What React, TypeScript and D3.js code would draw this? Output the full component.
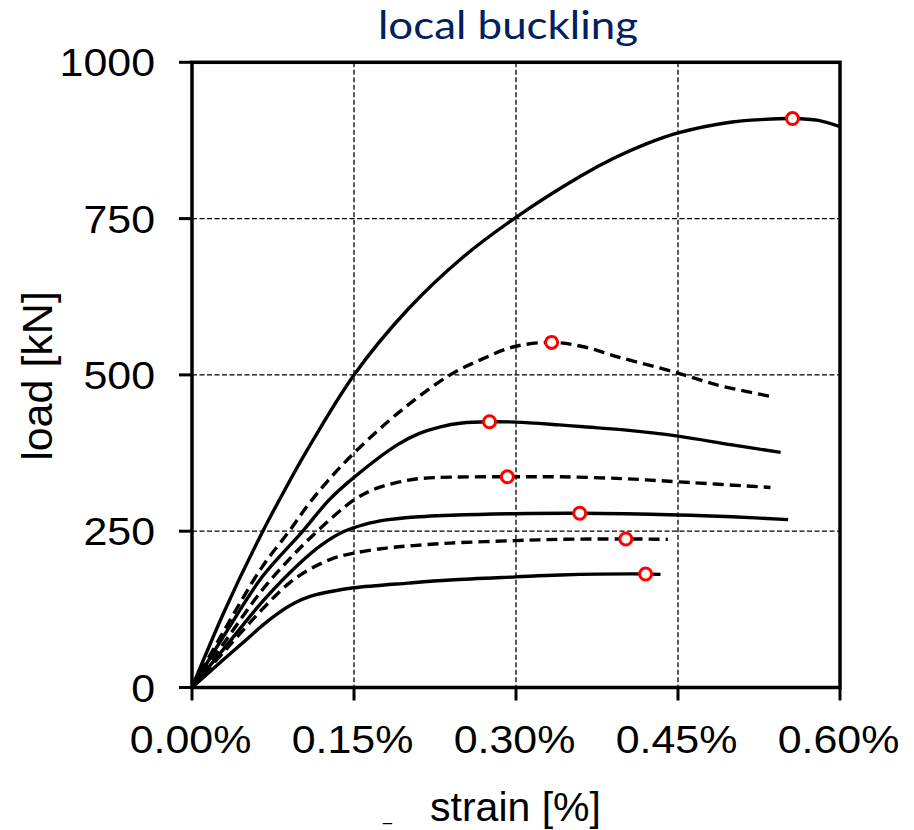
import React from "react";
import * as d3 from "d3";

// Load–strain curves of the local buckling tests: [strain %, load kN]
const curveA: [number, number][] = [
  [0, 0], [0.03, 122], [0.065, 248], [0.09, 329], [0.105, 375], [0.15, 500],
  [0.2, 605], [0.25, 687], [0.3, 752], [0.36, 818], [0.39, 846], [0.42, 869],
  [0.45, 887], [0.5, 904.5], [0.53, 908.7], [0.556, 910], [0.58, 907], [0.6, 897],
];
const curveB: [number, number][] = [
  [0, 0], [0.03, 92], [0.065, 193], [0.09, 250], [0.107, 291], [0.126, 331],
  [0.15, 375], [0.195, 445], [0.239, 500], [0.267, 524], [0.298, 545],
  [0.333, 552], [0.3625, 545], [0.394, 529], [0.45, 503], [0.486, 484], [0.5375, 465],
];
const curveC: [number, number][] = [
  [0, 0], [0.03, 84], [0.065, 177], [0.102, 249], [0.127, 300], [0.15, 336],
  [0.19, 388], [0.21, 406], [0.23, 417], [0.25, 423], [0.2755, 425], [0.30, 424.5],
  [0.34, 420], [0.363, 417], [0.40, 412], [0.45, 402], [0.50, 388], [0.545, 376],
];
const curveD: [number, number][] = [
  [0, 0], [0.03, 72], [0.065, 156], [0.09, 205], [0.116, 250], [0.15, 300],
  [0.17, 318], [0.19, 328], [0.21, 334], [0.24, 336.5], [0.292, 337], [0.341, 337],
  [0.40, 334], [0.45, 329], [0.5356, 320],
];
const curveE: [number, number][] = [
  [0, 0], [0.03, 63], [0.065, 137], [0.1, 199], [0.12, 228], [0.14, 249],
  [0.16, 261], [0.18, 268], [0.2, 272], [0.24, 275.5], [0.298, 278], [0.359, 278.7],
  [0.45, 276], [0.50, 273], [0.552, 268.5],
];
const curveF: [number, number][] = [
  [0, 0], [0.03, 58], [0.065, 125], [0.09, 167], [0.11, 190], [0.13, 206],
  [0.15, 215], [0.18, 223], [0.205, 227], [0.239, 231], [0.30, 235], [0.341, 237],
  [0.4017, 237.6], [0.4406, 237],
];
const curveG: [number, number][] = [
  [0, 0], [0.03, 46], [0.05, 76], [0.065, 99], [0.08, 119], [0.095, 135],
  [0.11, 146], [0.13, 154], [0.15, 159.5], [0.2, 167], [0.239, 172], [0.3, 177],
  [0.341, 180], [0.42, 181.6], [0.4338, 181],
];

// Peak (ultimate) load of each test
const peaks: [number, number][] = [
  [0.556, 910], [0.333, 552], [0.2755, 425], [0.292, 337],
  [0.359, 278.7], [0.4017, 237.6], [0.42, 181.6],
];

const series = [
  { data: curveA, dashed: false },
  { data: curveB, dashed: true },
  { data: curveC, dashed: false },
  { data: curveD, dashed: true },
  { data: curveE, dashed: false },
  { data: curveF, dashed: true },
  { data: curveG, dashed: false },
];

const xTicks = [0, 0.15, 0.3, 0.45, 0.6];
const yTicks = [0, 250, 500, 750, 1000];

const W = 914;
const H = 830;
const left = 192;
const right = 840;
const top = 62.3;
const bottom = 687.5;

const FONT = "'Liberation Sans', Arial, Helvetica, sans-serif";

export default function App() {
  const x = d3.scaleLinear().domain([0, 0.6]).range([left, right]);
  const y = d3.scaleLinear().domain([0, 1000]).range([bottom, top]);
  const line = d3
    .line<[number, number]>()
    .x((d) => x(d[0]))
    .y((d) => y(d[1]))
    .curve(d3.curveCatmullRom.alpha(0.5));

  return (
    <svg
      width={W}
      height={H}
      viewBox={`0 0 ${W} ${H}`}
      style={{ position: "absolute", left: 0, top: 0, background: "#fff" }}
    >
      <rect x={0} y={0} width={W} height={H} fill="#fff" />

      {/* grid */}
      {xTicks.slice(1, -1).map((t) => (
        <line key={"gx" + t} x1={x(t)} x2={x(t)} y1={top} y2={bottom}
          stroke="#000" strokeWidth={1.3} strokeDasharray="5,2.5" />
      ))}
      {yTicks.slice(1, -1).map((t) => (
        <line key={"gy" + t} x1={left} x2={right} y1={y(t)} y2={y(t)}
          stroke="#000" strokeWidth={1.3} strokeDasharray="5,2.5" />
      ))}

      <defs>
        <clipPath id="plotClip">
          <rect x={left} y={top - 10} width={right - left} height={bottom - top + 10} />
        </clipPath>
      </defs>

      {/* curves */}
      <g clipPath="url(#plotClip)">
        {series.map((s, i) => (
          <path key={i} d={line(s.data) || ""} fill="none" stroke="#000"
            strokeWidth={3.4} strokeDasharray={s.dashed ? "11,6" : undefined}
            strokeLinejoin="round" />
        ))}
      </g>

      {/* frame */}
      <rect x={left} y={top} width={right - left} height={bottom - top}
        fill="none" stroke="#000" strokeWidth={3.5} />

      {/* ticks */}
      {xTicks.map((t) => (
        <line key={"tx" + t} x1={x(t)} x2={x(t)} y1={bottom} y2={bottom + 13}
          stroke="#000" strokeWidth={3} />
      ))}
      {yTicks.map((t) => (
        <line key={"ty" + t} x1={left - 13} x2={left} y1={y(t)} y2={y(t)}
          stroke="#000" strokeWidth={3} />
      ))}

      {/* peak markers */}
      {peaks.map((p, i) => (
        <circle key={"p" + i} cx={x(p[0])} cy={y(p[1])} r={6}
          fill="#fff" stroke="#ff0000" strokeWidth={3} />
      ))}

      {/* tick labels */}
      {xTicks.map((t) => (
        <text key={"lx" + t}
          transform={`translate(${x(t) - 1.5},${752.7}) scale(1.1,1)`}
          textAnchor="middle" fontFamily={FONT} fontSize={39} fill="#000">
          {d3.format(".2%")(t / 100)}
        </text>
      ))}
      {yTicks.map((t) => (
        <text key={"ly" + t}
          transform={`translate(${155},${y(t) + 14}) scale(1.1,1)`}
          textAnchor="end" fontFamily={FONT} fontSize={39} fill="#000">
          {t}
        </text>
      ))}

      {/* titles */}
      <text x={508} y={39} textAnchor="middle" fontFamily="Lato, 'Open Sans', sans-serif"
        fontSize={39} fill="#002060" textLength={260} lengthAdjust="spacingAndGlyphs">
        local buckling
      </text>
      <text transform={`translate(52,376) rotate(-90)`} textAnchor="middle"
        fontFamily={FONT} fontSize={43} fill="#000">
        load [kN]
      </text>
      <text x={515.5} y={821} textAnchor="middle" fontFamily={FONT} fontSize={41} fill="#000">
        strain [%]
      </text>
      <text x={383} y={821} fontFamily={FONT} fontSize={16} fill="#000">
        _
      </text>
    </svg>
  );
}
